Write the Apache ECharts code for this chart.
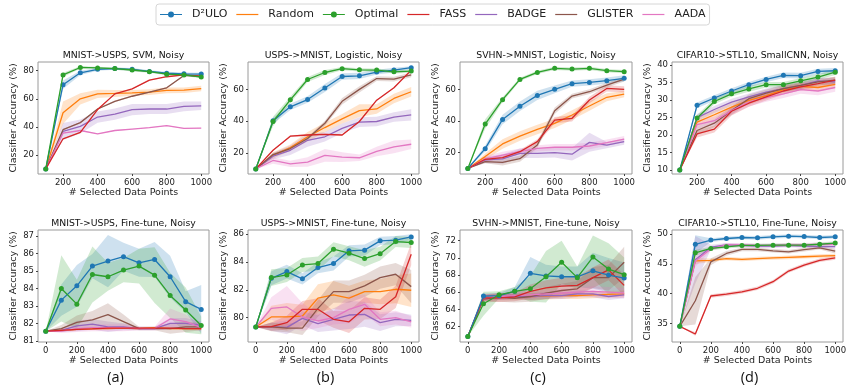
<!DOCTYPE html>
<html>
<head>
<meta charset="utf-8">
<script src="https://cdn.jsdelivr.net/npm/echarts@6/dist/echarts.min.js"></script>
<style>
  html, body { margin: 0; padding: 0; background: #fff; }
  #chart { width: 847px; height: 392px; }
</style>
</head>
<body>
<div id="chart"></div>
<script>
// methods, in legend order
const methods = ["D\u00b2ULO", "Random", "Optimal", "FASS", "BADGE", "GLISTER", "AADA"];

// x values (number of selected data points)
const xTop = [100, 200, 300, 400, 500, 600, 700, 800, 900, 1000];
const xBot = [0, 100, 200, 300, 400, 500, 600, 700, 800, 900, 1000];

// tick labels
const xTicksTop = [200, 400, 600, 800, 1000];
const xTicksBot = [0, 200, 400, 600, 800, 1000];
const yTicksTopA = [20, 40, 60, 80];
const yTicksTopB = [20, 40, 60];
const yTicksTopC = [20, 40, 60];
const yTicksTopD = [10, 15, 20, 25, 30, 35, 40];
const yTicksBotA = [81, 82, 83, 84, 85, 86, 87];
const yTicksBotB = [80, 82, 84, 86];
const yTicksBotC = [62, 64, 66, 68, 70, 72];
const yTicksBotD = [35, 40, 45, 50];

// panel titles
const titles = [
  "MNIST->USPS, SVM, Noisy",
  "USPS->MNIST, Logistic, Noisy",
  "SVHN->MNIST, Logistic, Noisy",
  "CIFAR10->STL10, SmallCNN, Noisy",
  "MNIST->USPS, Fine-tune, Noisy",
  "USPS->MNIST, Fine-tune, Noisy",
  "SVHN->MNIST, Fine-tune, Noisy",
  "CIFAR10->STL10, Fine-Tune, Noisy",
];
const subLabels = ["(a)", "(b)", "(c)", "(d)"];

// ---- mean accuracy, one row per method (D2ULO, Random, Optimal, FASS, BADGE, GLISTER, AADA)
const topAMean = [
  [10, 70, 78.5, 81, 81.5, 81, 79.5, 78.2, 77.8, 77.6],
  [10, 50, 60, 63.5, 63.8, 64.2, 64.7, 66, 66.1, 67.3],
  [10, 77, 82.3, 82, 81.5, 80.5, 79.3, 77.5, 77, 75.5],
  [10, 31.5, 36, 52.3, 63.5, 67, 73.3, 75.7, 77, 76.2],
  [10, 36.7, 40.3, 47, 49, 52.3, 52.7, 52.7, 54.6, 55],
  [10, 38, 43, 52.7, 58.2, 61.8, 64.7, 67.8, 76.6, 76],
  [10, 35.5, 37.4, 35, 37.4, 38.4, 39.4, 40.8, 38.9, 39.1],
];
const topAStd = [
  [0, 3, 1.5, 1, 0.8, 1, 0.8, 1, 1, 1],
  [0, 8, 4, 3, 2.5, 2, 2, 2, 2, 2],
  [0, 1.5, 0.8, 0.8, 0.8, 1, 0.8, 0.8, 0.8, 0.8],
  [0, 0.4, 0.4, 0.4, 0.4, 0.4, 0.4, 0.4, 0.4, 0.4],
  [0, 6, 5, 4, 4, 4, 3.5, 3.5, 3.5, 3],
  [0, 0.5, 0.5, 0.5, 0.5, 0.5, 0.5, 0.5, 0.5, 0.5],
  [0, 0.3, 0.3, 0.3, 0.3, 0.3, 0.3, 0.3, 0.3, 0.3],
];

const topBMean = [
  [10, 40.2, 49, 53.6, 60.9, 68.1, 68.5, 70.9, 72.1, 73.6],
  [10, 18.5, 23.4, 30.2, 36, 41.5, 46.6, 47.7, 54.3, 58.5],
  [10, 39.8, 53.4, 66.2, 70.6, 73, 72.3, 72.1, 71, 71.5],
  [10, 21.7, 30.6, 31.3, 31.7, 31.3, 39.8, 53.2, 61, 72.1],
  [10, 18, 21.7, 28, 30.2, 35.5, 39.4, 39.8, 42.6, 44],
  [10, 19, 22.8, 29.1, 38.7, 52.5, 60, 66.8, 66.4, 69.1],
  [10, 15.3, 13.2, 14.3, 18.5, 17.4, 17, 21, 23.8, 25.5],
];
const topBStd = [
  [0, 2, 2, 2, 2.5, 2, 2, 1.5, 1.5, 1],
  [0, 2, 2, 3, 3, 3, 4, 3, 3, 3],
  [0, 3, 2, 1.5, 1.5, 1, 1, 1, 1, 1],
  [0, 0.5, 0.5, 0.5, 0.5, 0.5, 0.5, 0.5, 0.5, 0.5],
  [0, 2, 3, 4, 3, 3, 3, 3, 3, 3.5],
  [0, 1, 1, 1, 1.5, 2, 2, 1.5, 1.5, 1.5],
  [0, 2, 2, 3, 4, 3, 2, 3, 4, 3],
];

const topCMean = [
  [10, 22.5, 41, 49.3, 56.2, 60, 63.6, 64.4, 65.5, 67],
  [10, 17.5, 25.5, 30.5, 34.7, 38.5, 43.8, 49.5, 55, 57],
  [10, 38.1, 53.5, 66.3, 70.7, 73.3, 72.8, 73.3, 71.8, 71.2],
  [10, 15.8, 16.8, 20.6, 27, 40.6, 41.7, 53.3, 60.6, 60],
  [10, 15.4, 16, 19.6, 19.6, 20, 19, 26.5, 24.8, 27],
  [10, 14.3, 13.9, 16.2, 24.8, 46.5, 55.8, 58.5, 62.7, 66.5],
  [10, 16, 18.5, 20.6, 22.7, 23.4, 23.4, 24.2, 26.3, 28.6],
];
const topCStd = [
  [0, 2, 3, 3, 3, 2.5, 2, 2, 2, 2],
  [0, 2, 3, 3, 3, 3, 3, 3, 2.5, 2],
  [0, 3, 1.5, 1, 1, 1, 1, 1, 1, 1],
  [0, 1, 1, 1, 1.5, 2, 2, 2, 2, 2],
  [0, 2, 3, 3, 3, 3, 4, 6, 2, 2],
  [0, 1, 2, 2, 2, 2, 1.5, 1.5, 1.5, 1.5],
  [0, 2, 2, 2, 2, 2, 2, 2, 2, 2],
];

const topDMean = [
  [10, 28.5, 30.6, 32.6, 34.4, 35.9, 37.1, 37, 38.2, 38.4],
  [10, 23.7, 25.8, 28, 29.9, 31.3, 33, 33.9, 33.6, 34.5],
  [10, 24.9, 29.6, 31.8, 33.2, 34.4, 34.4, 35.5, 36.6, 38],
  [10, 20.3, 21.7, 26.8, 29.1, 30.9, 32.6, 33.8, 34.7, 35.7],
  [10, 25, 27.3, 29.4, 30.9, 32.3, 33.3, 34.2, 35.5, 35.2],
  [10, 21.3, 23.4, 27, 30.4, 32, 33.3, 34.2, 35.2, 35.7],
  [10, 23, 24.1, 27, 29.4, 30.7, 31.8, 33, 32.6, 33.6],
];
const topDStd = [
  [0, 0.8, 0.8, 0.8, 0.8, 0.8, 0.8, 0.8, 0.8, 0.8],
  [0, 1.2, 1.2, 1.2, 1.2, 1, 1, 1, 1, 1],
  [0, 0.8, 0.8, 0.8, 0.8, 0.8, 0.8, 0.8, 0.8, 0.8],
  [0, 1, 1, 1.2, 1, 1, 1, 1, 1, 1],
  [0, 1, 1, 1, 1, 1, 1, 1, 1, 1],
  [0, 1.2, 1.2, 1.2, 1.2, 1, 1, 1, 1, 1],
  [0, 1.2, 1.2, 1.2, 1.2, 1.2, 1.2, 1.2, 1.2, 1.2],
];

const botAMean = [
  [81.55, 83.33, 84.15, 85.28, 85.57, 85.82, 85.47, 85.66, 84.67, 83.24, 82.8],
  [81.55, 81.6, 81.65, 81.7, 81.7, 81.72, 81.7, 81.75, 81.7, 81.7, 81.7],
  [81.55, 84, 83.1, 84.8, 84.67, 85.05, 85.28, 84.76, 83.6, 82.76, 81.88],
  [81.55, 81.6, 81.65, 81.68, 81.72, 81.72, 81.72, 81.72, 81.72, 81.7, 81.7],
  [81.55, 81.6, 81.85, 81.95, 81.8, 81.8, 81.7, 81.7, 82, 82, 81.9],
  [81.55, 81.7, 82.05, 82.2, 82.5, 82.1, 81.7, 81.7, 81.7, 81.8, 81.8],
  [81.55, 81.55, 81.7, 81.75, 81.75, 81.75, 81.7, 81.7, 82.25, 82.1, 81.75],
];
const botAStd = [
  [0, 0.9, 1.2, 0.7, 1.5, 0.8, 0.8, 1, 1.2, 0.6, 1.4],
  [0, 0.05, 0.05, 0.05, 0.05, 0.05, 0.05, 0.05, 0.05, 0.05, 0.05],
  [0, 1.9, 1.4, 1.6, 0.8, 0.7, 1, 1.6, 1.3, 1.3, 0.5],
  [0, 0.04, 0.04, 0.04, 0.04, 0.04, 0.04, 0.04, 0.04, 0.04, 0.04],
  [0, 0.1, 0.3, 0.3, 0.3, 0.2, 0.1, 0.1, 0.3, 0.3, 0.2],
  [0, 0.2, 0.4, 0.5, 0.65, 0.4, 0.1, 0.1, 0.3, 0.3, 0.2],
  [0, 0.1, 0.2, 0.2, 0.2, 0.2, 0.1, 0.1, 0.6, 0.4, 0.2],
];

const botBMean = [
  [79.33, 82.83, 83.31, 82.79, 83.6, 83.89, 84.8, 84.85, 85.52, 85.57, 85.8],
  [79.33, 80.05, 80.05, 80.12, 81.4, 81.63, 81.4, 81.87, 81.87, 82.04, 81.97],
  [79.33, 82.88, 83.07, 83.79, 83.89, 84.92, 84.63, 84.25, 84.6, 85.47, 85.4],
  [79.33, 79.35, 79.64, 80.6, 80.6, 79.88, 79.7, 80.67, 80.6, 81.5, 84.56],
  [79.33, 79.35, 79.3, 79.95, 79.57, 79.88, 80.19, 80.24, 79.64, 79.88, 79.8],
  [79.33, 79.33, 79.25, 79.25, 80.67, 81.87, 81.87, 82.28, 82.88, 83.12, 82.23],
  [79.33, 80.67, 80.77, 80.05, 79.76, 80, 80.6, 80.96, 79.88, 80, 79.7],
];
const botBStd = [
  [0, 0.5, 0.5, 0.4, 0.4, 0.5, 0.4, 0.4, 0.3, 0.3, 0.2],
  [0, 0.8, 1, 0.8, 1, 1, 0.9, 0.8, 0.9, 1, 1.2],
  [0, 0.6, 0.5, 0.5, 0.5, 0.5, 0.5, 0.6, 0.5, 0.4, 0.4],
  [0, 0.3, 0.5, 0.6, 0.8, 0.6, 0.8, 0.8, 0.7, 0.8, 0.8],
  [0, 0.3, 0.5, 0.5, 0.6, 0.8, 1, 0.9, 0.6, 0.5, 0.4],
  [0, 0.3, 0.3, 0.5, 0.6, 0.8, 0.8, 0.8, 0.8, 0.8, 1.2],
  [0, 0.8, 1.5, 1, 0.5, 0.5, 1, 0.7, 0.5, 0.5, 0.4],
];

const botCMean = [
  [60.84, 65.55, 65.6, 66.1, 68.2, 67.9, 67.8, 67.8, 68.5, 68, 67.65],
  [60.84, 65.3, 65.4, 65.45, 65.5, 65.55, 65.6, 65.6, 65.7, 65.75, 65.8],
  [60.84, 64.65, 65.7, 66.1, 66.4, 67.8, 69.5, 67.7, 70.1, 68.7, 68.05],
  [60.84, 65.35, 65.35, 65.45, 66.1, 66.5, 66.7, 66.8, 67.7, 68.6, 66.8],
  [60.84, 65.3, 65.4, 65.5, 65.5, 65.6, 65.6, 65.8, 65.8, 65.5, 65.7],
  [60.84, 65.2, 65.4, 65.3, 65.5, 65.9, 66.2, 66.4, 67.7, 67.7, 69.5],
  [60.84, 65.35, 65.5, 65.6, 65.7, 65.8, 65.9, 66, 66.1, 66, 65.9],
];
const botCStd = [
  [0, 0.3, 0.3, 0.5, 1.9, 1.3, 1.2, 1.2, 2.1, 2, 1.8],
  [0, 0.3, 0.3, 0.3, 0.4, 0.4, 0.4, 0.4, 0.4, 0.4, 0.4],
  [0, 1.4, 0.4, 0.5, 1.5, 3, 2.5, 1.3, 2.5, 3, 2],
  [0, 0.4, 0.5, 0.5, 0.8, 0.9, 1, 1, 1.2, 1.2, 1.2],
  [0, 0.3, 0.3, 0.3, 0.4, 0.4, 0.4, 0.4, 0.4, 0.4, 0.4],
  [0, 0.4, 0.5, 0.5, 0.6, 0.7, 0.8, 0.9, 1.2, 1.5, 1.8],
  [0, 0.4, 0.4, 0.4, 0.5, 0.5, 0.5, 0.5, 0.6, 0.6, 0.6],
];

const botDMean = [
  [34.5, 48.3, 49, 49.27, 49.44, 49.38, 49.55, 49.66, 49.6, 49.44, 49.55],
  [34.5, 45.5, 45.6, 45.9, 45.75, 45.9, 46, 46.1, 46.2, 46.3, 46.4],
  [34.5, 46.87, 47.6, 47.87, 48.1, 48.1, 48.15, 48.15, 48.15, 48.3, 48.5],
  [34.5, 33.2, 39.6, 39.9, 40.3, 40.9, 42, 43.8, 44.8, 45.6, 46],
  [34.5, 45.7, 47.8, 48.2, 48.1, 48, 48, 48.1, 48, 47.9, 47.9],
  [34.5, 38.8, 45.35, 46.75, 47.43, 47.43, 47.2, 47.03, 47.4, 47.7, 47.15],
  [34.5, 45.5, 47.5, 48.2, 48.2, 48.1, 48.1, 48.2, 48.2, 48.3, 48.3],
];
const botDStd = [
  [0, 1.5, 0.3, 0.3, 0.3, 0.3, 0.3, 0.3, 0.3, 0.3, 0.3],
  [0, 0.5, 0.3, 0.3, 0.3, 0.3, 0.3, 0.3, 0.3, 0.3, 0.3],
  [0, 0.5, 0.3, 0.3, 0.3, 0.3, 0.3, 0.3, 0.3, 0.3, 0.3],
  [0, 0.3, 0.3, 0.3, 0.3, 0.3, 0.3, 0.3, 0.3, 0.3, 0.3],
  [0, 4, 0.4, 0.3, 0.3, 0.3, 0.3, 0.3, 0.3, 0.3, 0.3],
  [0, 4, 0.6, 0.4, 0.3, 0.3, 0.3, 0.3, 0.3, 0.3, 0.4],
  [0, 1, 0.3, 0.3, 0.3, 0.3, 0.3, 0.3, 0.3, 0.3, 0.3],
];

// ---- styling / layout
const colors = ["#1f77b4", "#ff7f0e", "#2ca02c", "#d62728", "#9467bd", "#8c564b", "#e377c2"];
const hasMarker = [true, false, true, false, false, false, false];
const lineZ = [4, 2, 5, 3, 2, 2, 2];
const font = "DejaVu Sans";
// legend glyphs: plain line, or line with a dot in the middle
const iconLine = "path://M0,4.4H22V5.6H0Z";
const iconDot = "path://M0,4.4H22V5.6H0Z M8,5A3,3 0 1 1 14,5A3,3 0 1 1 8,5Z";

const panels = [
  { mean: topAMean, std: topAStd, x: xTop, xt: xTicksTop, yt: yTicksTopA, xr: [55, 1045], yr: [6.4, 86.2], left: 38, top: 62, width: 171 },
  { mean: topBMean, std: topBStd, x: xTop, xt: xTicksTop, yt: yTicksTopB, xr: [55, 1045], yr: [6.8, 77.2], left: 248, top: 62, width: 171 },
  { mean: topCMean, std: topCStd, x: xTop, xt: xTicksTop, yt: yTicksTopC, xr: [55, 1045], yr: [6.5, 77.3], left: 460, top: 62, width: 172 },
  { mean: topDMean, std: topDStd, x: xTop, xt: xTicksTop, yt: yTicksTopD, xr: [55, 1045], yr: [8.85, 40.9], left: 672, top: 62, width: 171 },
  { mean: botAMean, std: botAStd, x: xBot, xt: xTicksBot, yt: yTicksBotA, xr: [-50, 1050], yr: [80.93, 87.35], left: 38, top: 230, width: 171 },
  { mean: botBMean, std: botBStd, x: xBot, xt: xTicksBot, yt: yTicksBotB, xr: [-50, 1050], yr: [78.25, 86.3], left: 248, top: 230, width: 171 },
  { mean: botCMean, std: botCStd, x: xBot, xt: xTicksBot, yt: yTicksBotC, xr: [-50, 1050], yr: [60.2, 73.25], left: 460, top: 230, width: 172 },
  { mean: botDMean, std: botDStd, x: xBot, xt: xTicksBot, yt: yTicksBotD, xr: [-50, 1050], yr: [31.86, 50.7], left: 672, top: 230, width: 171 },
];
const plotH = 112;

var chart = echarts.init(document.getElementById("chart"), null, { renderer: "canvas" });

let grids = [], xAxes = [], yAxes = [], series = [], titleList = [];

// shaded +-std band drawn as one polygon through the axis scales
function bandSeries(k, j, xs, mean, sd) {
  const rows = xs.map((x, i) => [x, mean[i] - sd[i], mean[i] + sd[i]]);
  return {
    type: "custom", xAxisIndex: k, yAxisIndex: k, silent: true, z: 1,
    data: rows, encode: { x: 0, y: [1, 2] },
    renderItem: function (params, api) {
      if (params.dataIndex !== 0) return null;
      const upper = rows.map((r) => api.coord([r[0], r[2]]));
      const lower = rows.map((r) => api.coord([r[0], r[1]])).reverse();
      return {
        type: "polygon",
        shape: { points: upper.concat(lower) },
        style: { fill: colors[j], opacity: 0.22, stroke: null },
      };
    },
  };
}

panels.forEach((p, k) => {
  grids.push({
    left: p.left, top: p.top, width: p.width, height: plotH,
    show: true, borderColor: "#9a9a9a", borderWidth: 1,
    containLabel: false, outerBoundsMode: "none",
  });
  xAxes.push({
    type: "value", gridIndex: k, min: p.xr[0], max: p.xr[1],
    name: "# Selected Data Points", nameLocation: "middle", nameGap: 14,
    nameTextStyle: { fontSize: 9.5, color: "#222", fontFamily: font },
    axisLine: { show: false, onZero: false },
    axisTick: { show: true, length: 2, customValues: p.xt, lineStyle: { color: "#444" } },
    axisLabel: { customValues: p.xt, fontSize: 8.5, color: "#222", fontFamily: font, margin: 4,
      formatter: (v) => String(v) },
    splitLine: { show: false },
  });
  yAxes.push({
    type: "value", gridIndex: k, min: p.yr[0], max: p.yr[1],
    name: "Classifier Accuracy (%)", nameLocation: "middle", nameGap: 19,
    nameTextStyle: { fontSize: 9.5, color: "#222", fontFamily: font },
    axisLine: { show: false, onZero: false },
    axisTick: { show: true, length: 2, customValues: p.yt, lineStyle: { color: "#444" } },
    axisLabel: { customValues: p.yt, fontSize: 8.5, color: "#222", fontFamily: font, margin: 4,
      formatter: (v) => String(v) },
    splitLine: { show: false },
  });
  titleList.push({
    text: titles[k], left: p.left + p.width / 2, top: p.top - 11, textAlign: "center",
    textStyle: { fontSize: 9.3, fontWeight: "normal", color: "#111", fontFamily: font },
    padding: 0,
  });

  methods.forEach((m, j) => {
    series.push(bandSeries(k, j, p.x, p.mean[j], p.std[j]));
    series.push({
      name: m, type: "line", xAxisIndex: k, yAxisIndex: k,
      data: p.x.map((x, i) => [x, p.mean[j][i]]),
      symbol: hasMarker[j] ? "circle" : "none", symbolSize: 5, showSymbol: hasMarker[j],
      itemStyle: { color: colors[j] },
      lineStyle: { color: colors[j], width: 1.3 },
      z: lineZ[j],
    });
  });
});

subLabels.forEach((s, i) => {
  const p = panels[4 + i];
  titleList.push({
    text: s, left: p.left + p.width / 2 - 8, top: 370, textAlign: "center", padding: 0,
    textStyle: { fontSize: 14.5, fontWeight: "normal", color: "#111", fontFamily: "Open Sans" },
  });
});

var option = {
  animation: false,
  title: titleList,
  legend: {
    data: methods.map((m, j) => ({ name: m, icon: hasMarker[j] ? iconDot : iconLine })),
    left: 156, top: 4,
    padding: [5, 4], itemWidth: 22, itemHeight: 10, itemGap: 9,
    borderColor: "#d6d6d6", borderWidth: 1, borderRadius: 3,
    textStyle: { fontSize: 11, color: "#222", fontFamily: font, padding: [0, 0, 0, 5] },
  },
  grid: grids,
  xAxis: xAxes,
  yAxis: yAxes,
  series: series,
};

option && chart.setOption(option);
</script>
</body>
</html>
